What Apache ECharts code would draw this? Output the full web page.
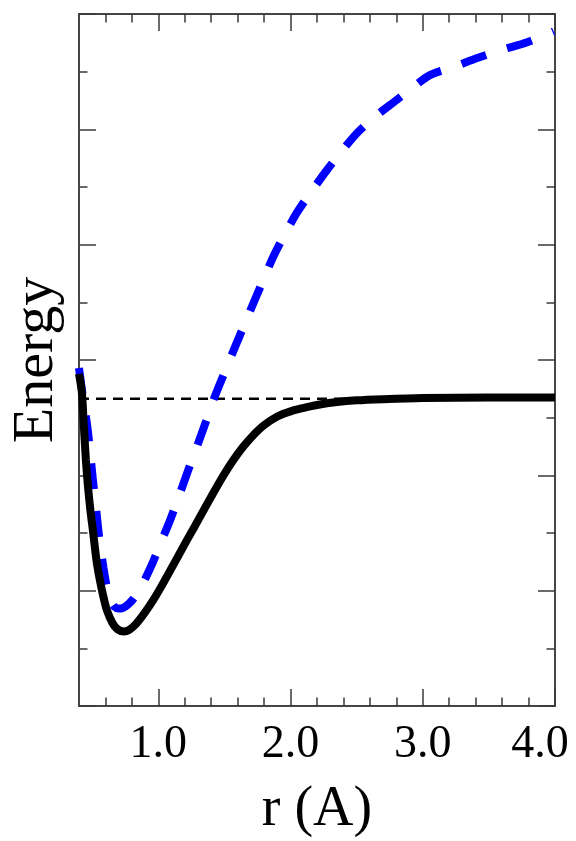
<!DOCTYPE html>
<html>
<head>
<meta charset="utf-8">
<script src="https://cdn.jsdelivr.net/npm/echarts@6/dist/echarts.min.js"></script>
<style>html,body{margin:0;padding:0;background:#fff;}#c{width:576px;height:841px;}</style>
</head>
<body>
<div id="c"></div>
<script>
// ---- data ----
const rBlack = [0.40, 0.422, 0.437, 0.452, 0.467, 0.486, 0.509, 0.532, 0.558, 0.585, 0.611, 0.653, 0.691, 0.739, 0.78, 0.83, 0.895, 0.96, 1.022, 1.085, 1.148, 1.21, 1.274, 1.337, 1.40, 1.48, 1.56, 1.64, 1.72, 1.80, 1.90, 2.00, 2.10, 2.20, 2.35, 2.50, 2.70, 3.00, 3.50, 4.00];
const eBlack = [5.76, 5.43, 4.84, 4.27, 3.83, 3.40, 2.97, 2.53, 2.18, 1.89, 1.66, 1.44, 1.33, 1.29, 1.32, 1.42, 1.61, 1.83, 2.07, 2.33, 2.59, 2.85, 3.11, 3.37, 3.63, 3.95, 4.24, 4.49, 4.70, 4.87, 5.02, 5.11, 5.17, 5.22, 5.27, 5.30, 5.32, 5.34, 5.35, 5.35];
const rBlue = [0.40, 0.43, 0.466, 0.504, 0.53, 0.555, 0.585, 0.615, 0.64, 0.668, 0.70, 0.731, 0.765, 0.805, 0.85, 0.895, 0.96, 1.022, 1.085, 1.145, 1.22, 1.30, 1.36, 1.426, 1.50, 1.577, 1.65, 1.729, 1.80, 1.865, 1.95, 2.047, 2.16, 2.274, 2.39, 2.509, 2.64, 2.774, 2.90, 3.054, 3.23, 3.418, 3.60, 3.789, 3.99];
const eBlue = [5.86, 5.35, 4.79, 3.95, 3.40, 2.88, 2.40, 2.01, 1.83, 1.72, 1.69, 1.70, 1.75, 1.84, 1.99, 2.18, 2.50, 2.85, 3.20, 3.57, 4.05, 4.55, 4.93, 5.36, 5.78, 6.21, 6.61, 7.04, 7.42, 7.77, 8.15, 8.55, 8.93, 9.29, 9.63, 9.95, 10.22, 10.46, 10.68, 10.94, 11.08, 11.24, 11.38, 11.51, 11.70];
const rRef = [0.40, 4.0];
const eRef = [5.33, 5.33];
const xMajorTicks = [1.0, 2.0, 3.0, 4.0];
const xMinorTicks = [0.6, 0.8, 1.2, 1.4, 1.6, 1.8, 2.2, 2.4, 2.6, 2.8, 3.2, 3.4, 3.6, 3.8];
const yMajorTicks = [0, 2, 4, 6, 8, 10, 12];
const yMinorTicks = [1, 3, 5, 7, 9, 11];
const xTitle = 'r (A)';
const yTitle = 'Energy';

const X_MIN = 0.4, X_MAX = 4.0, Y_MIN = 0, Y_MAX = 12;
const AX = '#3a3a3a';
const FONT = 'Liberation Serif';

function zip(a, b) { return a.map((v, i) => [v, b[i]]); }

function mkX(pos, ticks, len, opts) {
  return Object.assign({
    type: 'value', position: pos, min: X_MIN, max: X_MAX,
    axisLine: { show: true, onZero: false, lineStyle: { color: AX, width: 1.5 } },
    axisTick: { show: true, inside: true, length: len, customValues: ticks, lineStyle: { color: AX, width: 1.5 } },
    axisLabel: { show: false },
    splitLine: { show: false }
  }, opts || {});
}
function mkY(pos, ticks, len, opts) {
  return Object.assign({
    type: 'value', position: pos, min: Y_MIN, max: Y_MAX,
    axisLine: { show: true, onZero: false, lineStyle: { color: AX, width: 1.5 } },
    axisTick: { show: true, inside: true, length: len, customValues: ticks, lineStyle: { color: AX, width: 1.5 } },
    axisLabel: { show: false },
    splitLine: { show: false }
  }, opts || {});
}

const chart = echarts.init(document.getElementById('c'));
chart.setOption({
  animation: false,
  backgroundColor: '#fff',
  grid: { left: 79, right: 21, top: 14, bottom: 135, containLabel: false, outerBoundsMode: 'none' },
  xAxis: [
    mkX('bottom', xMajorTicks, 17, {
      axisLabel: { show: true, customValues: xMajorTicks, margin: 16,
        formatter: v => (v >= X_MAX - 1e-9 ? '{last|' + v.toFixed(1) + '}' : v.toFixed(1)),
        rich: { last: { fontFamily: FONT, fontSize: 46, color: '#000', padding: [0, 30, 0, 0] } },
        fontFamily: FONT, fontSize: 46, color: '#000' },
      name: xTitle, nameLocation: 'middle', nameGap: 76,
      nameTextStyle: { fontFamily: FONT, fontSize: 56, color: '#000' }
    }),
    mkX('bottom', xMinorTicks, 8.5),
    mkX('top', xMajorTicks, 17),
    mkX('top', xMinorTicks, 8.5)
  ],
  yAxis: [
    mkY('left', yMajorTicks, 17, {
      name: yTitle, nameLocation: 'middle', nameGap: 13,
      nameTextStyle: { fontFamily: FONT, fontSize: 58, color: '#000' }
    }),
    mkY('left', yMinorTicks, 8.5),
    mkY('right', yMajorTicks, 17),
    mkY('right', yMinorTicks, 8.5)
  ],
  series: [
    { type: 'line', xAxisIndex: 0, yAxisIndex: 0, data: zip(rRef, eRef), symbol: 'none',
      lineStyle: { color: '#000', width: 2.5, type: [10, 7] } },
    { type: 'line', xAxisIndex: 0, yAxisIndex: 0, data: zip(rBlue, eBlue), symbol: 'none', smooth: 0.3,
      lineStyle: { color: '#0000ff', width: 8, type: [26, 22], cap: 'butt' } },
    { type: 'line', xAxisIndex: 0, yAxisIndex: 0, data: zip(rBlack, eBlack), symbol: 'none', smooth: 0.3,
      lineStyle: { color: '#000', width: 8 } }
  ]
});
</script>
</body>
</html>
